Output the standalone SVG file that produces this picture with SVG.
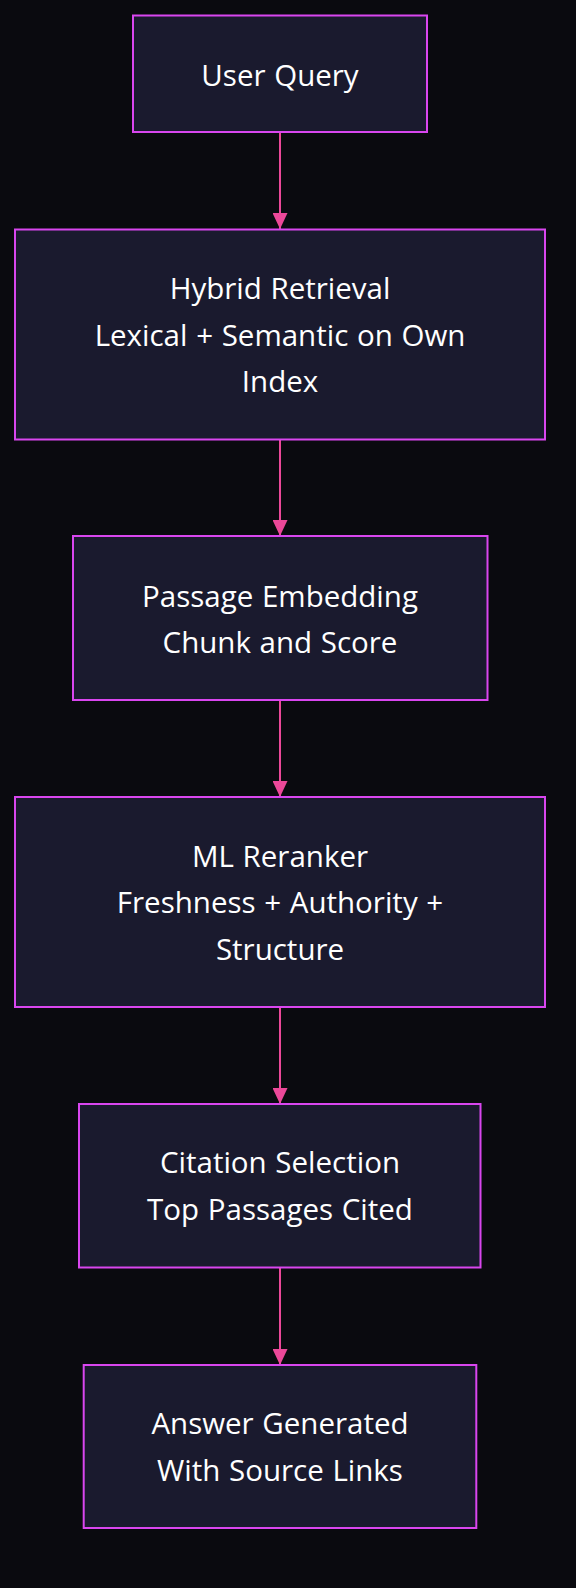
<svg xmlns="http://www.w3.org/2000/svg" width="576" height="1588" viewBox="0 0 576 1588">
<style>
.bg{fill:#0a0a0f}
.node rect{fill:#1a1a2e;stroke:#d946ef;stroke-width:2}
.node text{fill:#ffffff;font-family:"Open Sans","Noto Sans",sans-serif;font-size:29.5px;word-spacing:1px;text-anchor:middle}
.edge{stroke:#ec4899;stroke-width:2;fill:none}
</style>
<defs>
<marker id="arr" viewBox="0 0 16 15" refX="16" refY="7.5" markerWidth="16" markerHeight="15" markerUnits="userSpaceOnUse" orient="auto">
<path d="M0,0 L16,7.5 L0,15 Z" fill="#ec4899"/>
</marker>
</defs>
<rect class="bg" x="0" y="0" width="576" height="1588"/>
<g id="connectors">
<line class="edge" x1="280" y1="132" x2="280" y2="229" marker-end="url(#arr)"/>
<line class="edge" x1="280" y1="439" x2="280" y2="536" marker-end="url(#arr)"/>
<line class="edge" x1="280" y1="700" x2="280" y2="797" marker-end="url(#arr)"/>
<line class="edge" x1="280" y1="1007" x2="280" y2="1104" marker-end="url(#arr)"/>
<line class="edge" x1="280" y1="1268" x2="280" y2="1365" marker-end="url(#arr)"/>
</g>
<g id="n1" class="node">
<rect x="133" y="15.5" width="294" height="116.5"/>
<text x="280" y="86">User Query</text>
</g>
<g id="n2" class="node">
<rect x="15" y="229.5" width="530" height="210"/>
<text x="280" y="299">Hybrid Retrieval</text>
<text x="280" y="345.7">Lexical + Semantic on Own</text>
<text x="280" y="392.4">Index</text>
</g>
<g id="n3" class="node">
<rect x="73" y="536" width="414.5" height="164"/>
<text x="280" y="606.7">Passage Embedding</text>
<text x="280" y="652.7">Chunk and Score</text>
</g>
<g id="n4" class="node">
<rect x="15" y="797" width="530" height="210"/>
<text x="280" y="867.3">ML Reranker</text>
<text x="280" y="913.3">Freshness + Authority +</text>
<text x="280" y="960">Structure</text>
</g>
<g id="n5" class="node">
<rect x="79" y="1104" width="401.5" height="163.5"/>
<text x="280" y="1173.3">Citation Selection</text>
<text x="280" y="1220">Top Passages Cited</text>
</g>
<g id="n6" class="node">
<rect x="83.7" y="1365" width="392.6" height="163"/>
<text x="280" y="1434.3">Answer Generated</text>
<text x="280" y="1481">With Source Links</text>
</g>
</svg>
